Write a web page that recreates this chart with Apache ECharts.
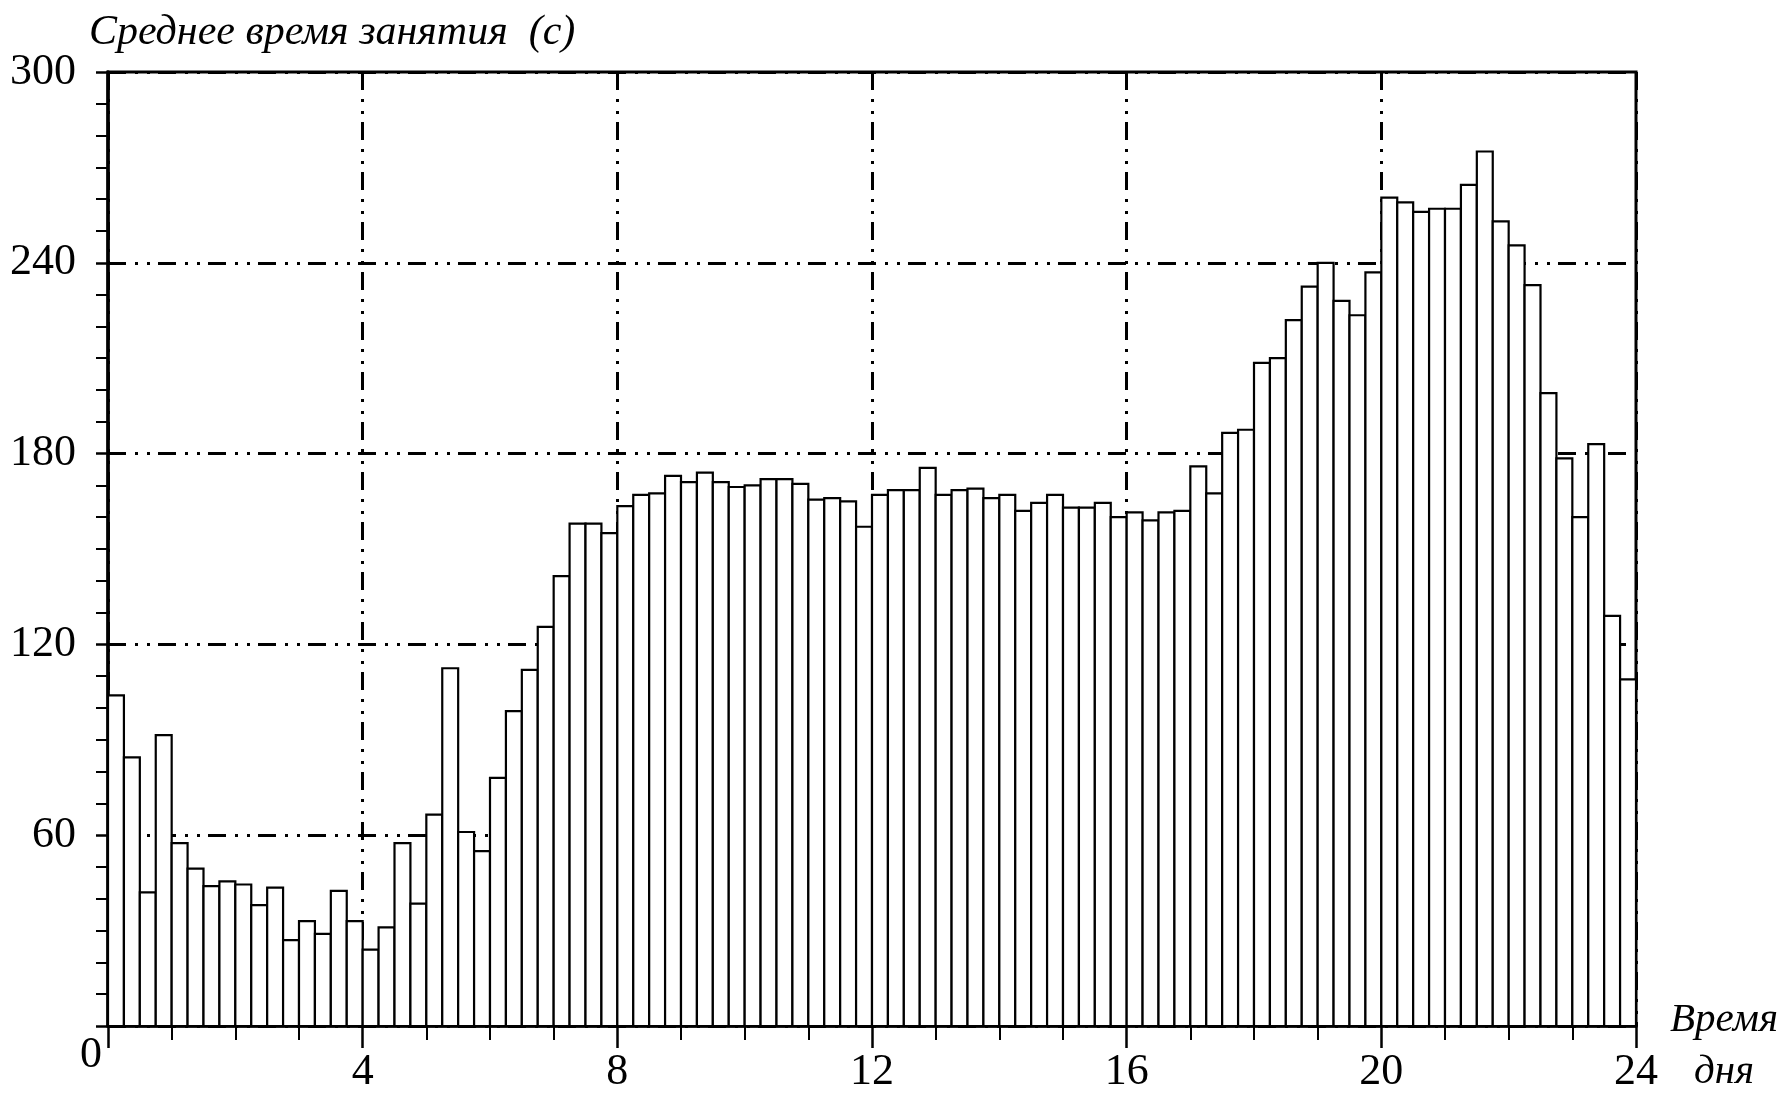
<!DOCTYPE html>
<html>
<head>
<meta charset="utf-8">
<script src="https://cdn.jsdelivr.net/npm/echarts@6/dist/echarts.min.js"></script>
<style>
html,body{margin:0;padding:0;background:#fff;}
#chart{width:1788px;height:1099px;}
</style>
</head>
<body>
<div id="chart"></div>
<script>
// 15-minute bins over the day (hours)
const binWidth = 0.25;
const binStarts = [];
for (let i = 0; i < 96; i++) binStarts.push(i * binWidth);

// Average occupancy time (s) per 15-min bin
const avgTime = [
  104, 84.5, 42, 91.5, 57.5, 49.5, 44, 45.5,
  44.5, 38, 43.5, 27, 33, 29, 42.5, 33,
  24, 31, 57.5, 38.5, 66.5, 112.5, 61, 55,
  78, 99, 112, 125.5, 141.5, 158, 158, 155,
  163.5, 167, 167.5, 173, 171, 174, 171, 169.5,
  170, 172, 172, 170.5, 165.5, 166, 165, 157,
  167, 168.5, 168.5, 175.5, 167, 168.5, 169, 166,
  167, 162, 164.5, 167, 163, 163, 164.5, 160,
  161.5, 159, 161.5, 162, 176, 167.5, 186.5, 187.5,
  208.5, 210, 222, 232.5, 240, 228, 223.5, 237,
  260.5, 259, 256, 257, 257, 264.5, 275, 253,
  245.5, 233, 199, 178.5, 160, 183, 129, 109
];

const xTicks = [0, 4, 8, 12, 16, 20, 24];
const yTicks = [0, 60, 120, 180, 240, 300];

const titleText = 'Среднее время занятия  (с)';
const xNameLines = ['Время', 'дня'];

const serif = '"Liberation Serif", "DejaVu Serif", serif';
const dashPattern = [18, 9, 3, 9, 3, 8];

const data = binStarts.map((s, i) => [s, s + binWidth, avgTime[i]]);

const chart = echarts.init(document.getElementById('chart'), null, {renderer: 'canvas'});
chart.setOption({
  backgroundColor: '#fff',
  animation: false,
  title: {
    text: titleText,
    left: 84, top: 7,
    textStyle: {fontFamily: serif, fontStyle: 'italic', fontWeight: 'normal', fontSize: 42, color: '#000'}
  },
  grid: {
    left: 108, right: 152, top: 72, bottom: 73,
    containLabel: false, outerBoundsMode: 'none',
    show: true, borderColor: '#000', borderWidth: 3, backgroundColor: 'transparent'
  },
  xAxis: {
    type: 'value', min: xTicks[0], max: xTicks[xTicks.length - 1], interval: 4,
    name: '{s| }\n' + xNameLines.map(t => '{a|' + t + '}').join('\n'),
    nameLocation: 'end', nameGap: 88,
    nameTextStyle: {
      align: 'center', verticalAlign: 'middle',
      rich: {
        s: {fontSize: 10, lineHeight: 40},
        a: {fontFamily: serif, fontStyle: 'italic', fontSize: 41, color: '#000', lineHeight: 52}
      }
    },
    axisLine: {show: true, lineStyle: {color: '#000', width: 3.5}},
    axisTick: {show: true, length: 22, lineStyle: {color: '#000', width: 2.5}},
    minorTick: {show: true, splitNumber: 4, length: 14, lineStyle: {color: '#000', width: 2}},
    axisLabel: {
      fontFamily: serif, fontSize: 44, color: '#000', margin: 24,
      formatter: v => (v === 0 ? '' : String(v))
    },
    splitLine: {show: true, lineStyle: {color: '#000', width: 3, type: dashPattern}}
  },
  yAxis: {
    type: 'value', min: yTicks[0], max: yTicks[yTicks.length - 1], interval: 60,
    axisLine: {show: true, lineStyle: {color: '#000', width: 3.5}},
    axisTick: {show: true, length: 12, lineStyle: {color: '#000', width: 2.5}},
    minorTick: {show: true, splitNumber: 6, length: 12, lineStyle: {color: '#000', width: 2}},
    axisLabel: {
      fontFamily: serif, fontSize: 44, color: '#000', margin: 32,
      formatter: v => (v === 0 ? '{z|0}' : String(v)),
      rich: {z: {fontFamily: serif, fontSize: 44, color: '#000', padding: [58, -26, 0, 0]}}
    },
    splitLine: {show: true, lineStyle: {color: '#000', width: 3, type: dashPattern}}
  },
  series: [{
    type: 'custom',
    data: data,
    encode: {x: [0, 1], y: 2},
    renderItem: function (params, api) {
      const p1 = api.coord([api.value(0), api.value(2)]);
      const p2 = api.coord([api.value(1), 0]);
      return {
        type: 'rect',
        shape: {x: p1[0], y: p1[1], width: p2[0] - p1[0], height: p2[1] - p1[1]},
        style: {fill: '#fff', stroke: '#000', lineWidth: 2.2}
      };
    }
  }]
});
</script>
</body>
</html>
